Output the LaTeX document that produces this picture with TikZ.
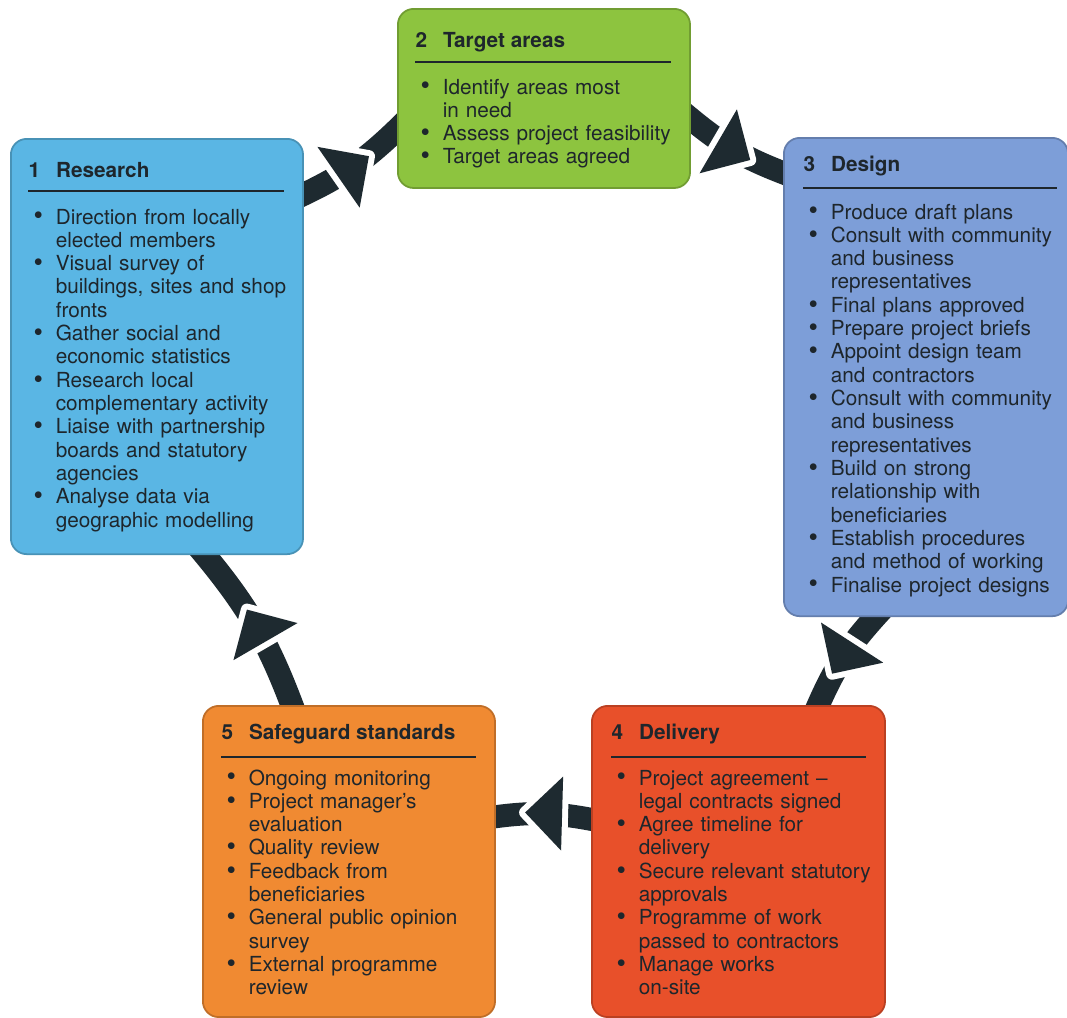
\documentclass[tikz,border=0pt]{standalone}
\usepackage{fontspec}
\setmainfont{TeX Gyre Heros}
\usepackage{enumitem}
\usetikzlibrary{decorations.markings}
\setlist[itemize]{label={\raisebox{-0.25pt}{\scalebox{1.3}{\textbullet}}}, leftmargin=7.7pt, labelsep=3.6pt, itemsep=0pt, parsep=0pt, topsep=0pt, partopsep=0pt}

\definecolor{rescol}{HTML}{5AB6E4}
\definecolor{tgtcol}{HTML}{8DC43F}
\definecolor{descol}{HTML}{7D9ED8}
\definecolor{delcol}{HTML}{E8502A}
\definecolor{safcol}{HTML}{F08A32}
\definecolor{ink}{HTML}{1E262C}
\definecolor{bandcol}{HTML}{1E2A30}

\pgfdeclarelayer{background}
\pgfsetlayers{background,main}

\begin{document}
\begin{tikzpicture}[x=0.01cm, y=-0.01cm,
    stage/.style={draw=#1!80!black, fill=#1, line width=0.5pt, rounded corners=4.5pt, anchor=north west, inner sep=0pt},
    heading/.style={anchor=base west, inner sep=0pt, text=ink, font=\fontsize{5.9}{6.6}\selectfont\bfseries},
    points/.style={anchor=north west, inner sep=0pt, text width=2.9cm, align=left, text=ink, font=\fontsize{5.9}{6.63}\selectfont},
    rulestyle/.style={draw=ink, line width=0.55pt},
    band/.style={draw=bandcol, line width=0.23cm, shorten <=-4pt, shorten >=-4pt,
        postaction={decorate},
        decoration={markings, mark=at position 0.5 with {
            \draw[white, line width=0.12cm, line join=round] (0.185cm,0) -- (-0.185cm,0.37cm) -- (-0.185cm,-0.37cm) -- cycle;
            \fill[bandcol] (0.185cm,0) -- (-0.185cm,0.37cm) -- (-0.185cm,-0.37cm) -- cycle;}}}]

    \useasboundingbox (0,0) rectangle (1067,1017);

    % Boxes
    \node[stage=rescol, minimum width=2.92cm, minimum height=4.15cm] (res) at (10,138) {};
    \node[stage=tgtcol, minimum width=2.92cm, minimum height=1.79cm] (tgt) at (397,8) {};
    \node[stage=descol, minimum width=2.84cm, minimum height=4.78cm] (des) at (783,137) {};
    \node[stage=delcol, minimum width=2.93cm, minimum height=3.11cm] (del) at (591,705) {};
    \node[stage=safcol, minimum width=2.92cm, minimum height=3.11cm] (saf) at (202,705) {};

    % 1 Research
    \node[heading] (resT) at (28,177) {1\hspace{4.5pt}Research};
    \draw[rulestyle] (28,191) -- (284,191);
    \node[points] (resL) at (28,200) {\begin{itemize}
        \item Direction from locally\\elected members
        \item Visual survey of\\buildings, sites and shop\\fronts
        \item Gather social and\\economic statistics
        \item Research local\\complementary activity
        \item Liaise with partnership\\boards and statutory\\agencies
        \item Analyse data via\\geographic modelling
    \end{itemize}};

    % 2 Target areas
    \node[heading] (tgtT) at (415,47) {2\hspace{4.5pt}Target areas};
    \draw[rulestyle] (415,62) -- (671,62);
    \node[points] (tgtL) at (415,70) {\begin{itemize}
        \item Identify areas most\\in need
        \item Assess project feasibility
        \item Target areas agreed
    \end{itemize}};

    % 3 Design
    \node[heading] (desT) at (803,171) {3\hspace{4.5pt}Design};
    \draw[rulestyle] (803,188) -- (1057,188);
    \node[points] (desL) at (803,195) {\begin{itemize}
        \item Produce draft plans
        \item Consult with community\\and business\\representatives
        \item Final plans approved
        \item Prepare project briefs
        \item Appoint design team\\and contractors
        \item Consult with community\\and business\\representatives
        \item Build on strong\\relationship with\\beneficiaries
        \item Establish procedures\\and method of working
        \item Finalise project designs
    \end{itemize}};

    % 4 Delivery
    \node[heading] (delT) at (611,739) {4\hspace{4.5pt}Delivery};
    \draw[rulestyle] (611,757) -- (866,757);
    \node[points] (delL) at (611,761) {\begin{itemize}
        \item Project agreement --\\legal contracts signed
        \item Agree timeline for\\delivery
        \item Secure relevant statutory\\approvals
        \item Programme of work\\passed to contractors
        \item Manage works\\on-site
    \end{itemize}};

    % 5 Safeguard standards
    \node[heading] (safT) at (221,739) {5\hspace{4.5pt}Safeguard standards};
    \draw[rulestyle] (221,757) -- (476,757);
    \node[points] (safL) at (221,761) {\begin{itemize}
        \item Ongoing monitoring
        \item Project manager's\\evaluation
        \item Quality review
        \item Feedback from\\beneficiaries
        \item General public opinion\\survey
        \item External programme\\review
    \end{itemize}};

    % Cycle arrows
    \begin{pgfonlayer}{background}
        \fill[white] (0,0) rectangle (1067,1017);
        \draw[band] (res.46) to[bend right=10] (tgt.192);
        \draw[band] (tgt.-8) to[bend right=10] (des.125);
        \draw[band] (des.258) to[bend right=10] (del.63);
        \draw[band] (del.164) to[bend right=10] (saf.17);
        \draw[band] (saf.110) to[bend right=10] (res.283);
    \end{pgfonlayer}

\end{tikzpicture}
\end{document}
